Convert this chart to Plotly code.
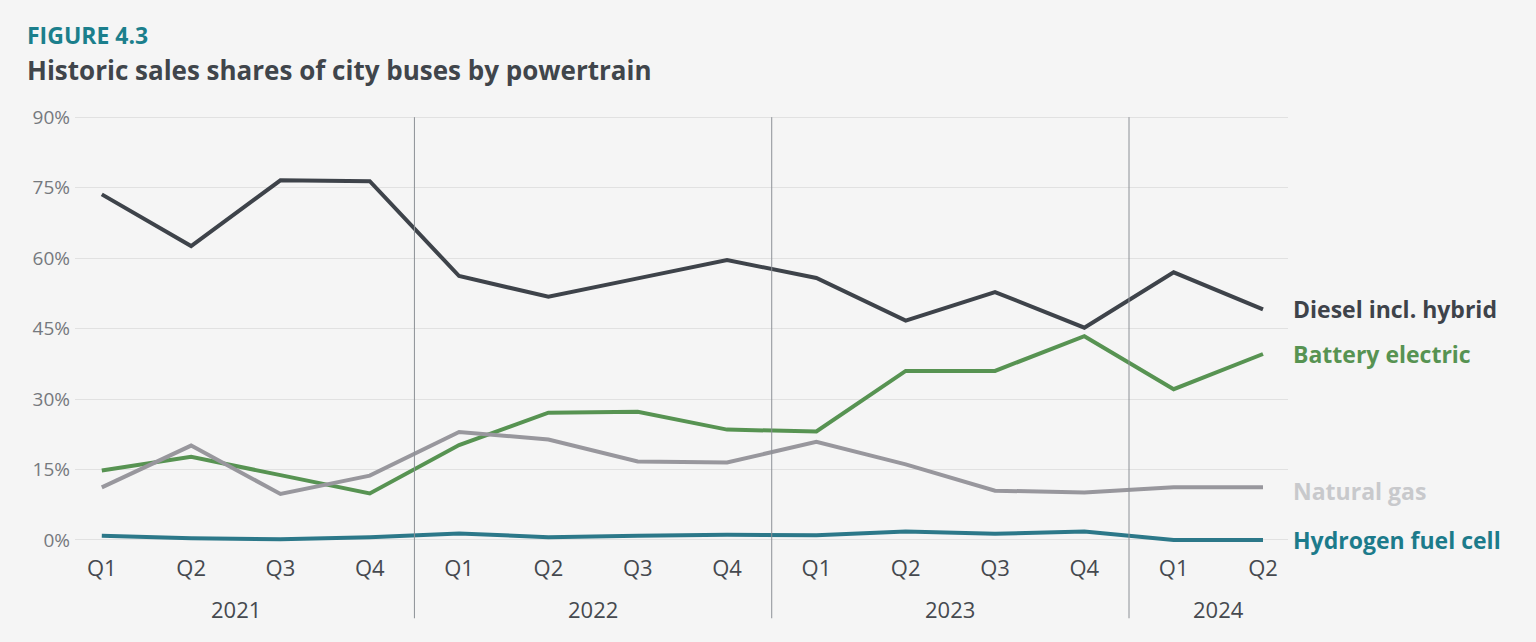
import plotly.graph_objects as go

quarters = ["Q1", "Q2", "Q3", "Q4", "Q1", "Q2", "Q3", "Q4",
            "Q1", "Q2", "Q3", "Q4", "Q1", "Q2"]
years = ["2021", "2022", "2023", "2024"]
year_centers = [1.5, 5.5, 9.5, 12.5]
year_breaks = [3.5, 7.5, 11.5]

diesel = [73.6, 62.6, 76.6, 76.4, 56.2, 51.8, 55.7, 59.6, 55.8, 46.7, 52.8, 45.2, 57.0, 49.1]
battery = [14.8, 17.7, 13.8, 9.9, 20.2, 27.1, 27.3, 23.5, 23.1, 36.0, 36.0, 43.4, 32.1, 39.6]
natgas = [11.2, 20.1, 9.8, 13.7, 23.0, 21.4, 16.7, 16.5, 20.9, 16.1, 10.5, 10.1, 11.2, 11.2]
hydrogen = [0.9, 0.35, 0.15, 0.6, 1.4, 0.6, 0.9, 1.1, 1.0, 1.8, 1.3, 1.8, 0.0, 0.0]

series = [
    ("Diesel incl. hybrid", diesel, "#3e434a", "#3e434a", 0),
    ("Battery electric", battery, "#579352", "#579352", 0),
    ("Natural gas", natgas, "#98979d", "#c8c9cc", -4),
    ("Hydrogen fuel cell", hydrogen, "#2c7889", "#1c7b8b", 0),
]

x = list(range(len(quarters)))

fig = go.Figure()
annotations = []
for name, vals, color, label_color, yshift in series:
    fig.add_trace(go.Scatter(
        x=x, y=vals, mode="lines", name=name,
        line=dict(color=color, width=4),
        showlegend=False,
    ))
    annotations.append(dict(
        x=x[-1], y=vals[-1], xref="x", yref="y",
        text="<b>" + name + "</b>", showarrow=False,
        xanchor="left", yanchor="middle", xshift=28, yshift=yshift,
        font=dict(family="Open Sans", size=23, color=label_color),
    ))

for yr, cx in zip(years, year_centers):
    annotations.append(dict(
        x=cx, y=0, xref="x", yref="paper", text=yr, showarrow=False,
        xanchor="center", yanchor="middle", yshift=-62,
        font=dict(family="Open Sans", size=22, color="#45494f"),
    ))

# title texts
annotations.append(dict(
    x=0, y=1, xref="paper", yref="paper", text="<b>FIGURE 4.3</b>",
    showarrow=False, xanchor="left", yanchor="middle",
    xshift=-50, yshift=80,
    font=dict(family="Open Sans", size=23, color="#1b7f8c"),
))
annotations.append(dict(
    x=0, y=1, xref="paper", yref="paper",
    text="<b>Historic sales shares of city buses by powertrain</b>",
    showarrow=False, xanchor="left", yanchor="middle",
    xshift=-50, yshift=45,
    font=dict(family="Open Sans", size=26, color="#40454b"),
))

shapes = []
for b in year_breaks:
    shapes.append(dict(
        type="line", xref="x", yref="paper", x0=b, x1=b, y0=-0.165, y1=0.995,
        line=dict(color="#8c9096", width=1),
    ))

fig.update_layout(
    width=1536, height=642,
    paper_bgcolor="#f5f5f5", plot_bgcolor="#f5f5f5",
    margin=dict(l=75, r=248, t=115, b=95),
    xaxis=dict(
        range=[-0.3, 13.28], tickvals=x, ticktext=quarters,
        showgrid=False, zeroline=False, showline=False, ticks="",
        tickfont=dict(family="Open Sans", size=22, color="#45494f"),
        ticklabelstandoff=6,
    ),
    yaxis=dict(
        range=[-1.5, 90.5], tickvals=[0, 15, 30, 45, 60, 75, 90],
        ticktext=["0%", "15%", "30%", "45%", "60%", "75%", "90%"],
        showgrid=True, gridcolor="#e1e1e1", gridwidth=1,
        zeroline=False, showline=False, ticks="",
        tickfont=dict(family="Open Sans", size=19, color="#75797e"),
        ticklabelstandoff=4,
    ),
    annotations=annotations,
    shapes=shapes,
)

# page has a default 8px body margin, drop it so the chart fills the window
fig.write_html(
    "out.html",
    config={"displayModeBar": False},
    post_script="document.body.style.margin='0';document.body.style.background='#f5f5f5';",
)
